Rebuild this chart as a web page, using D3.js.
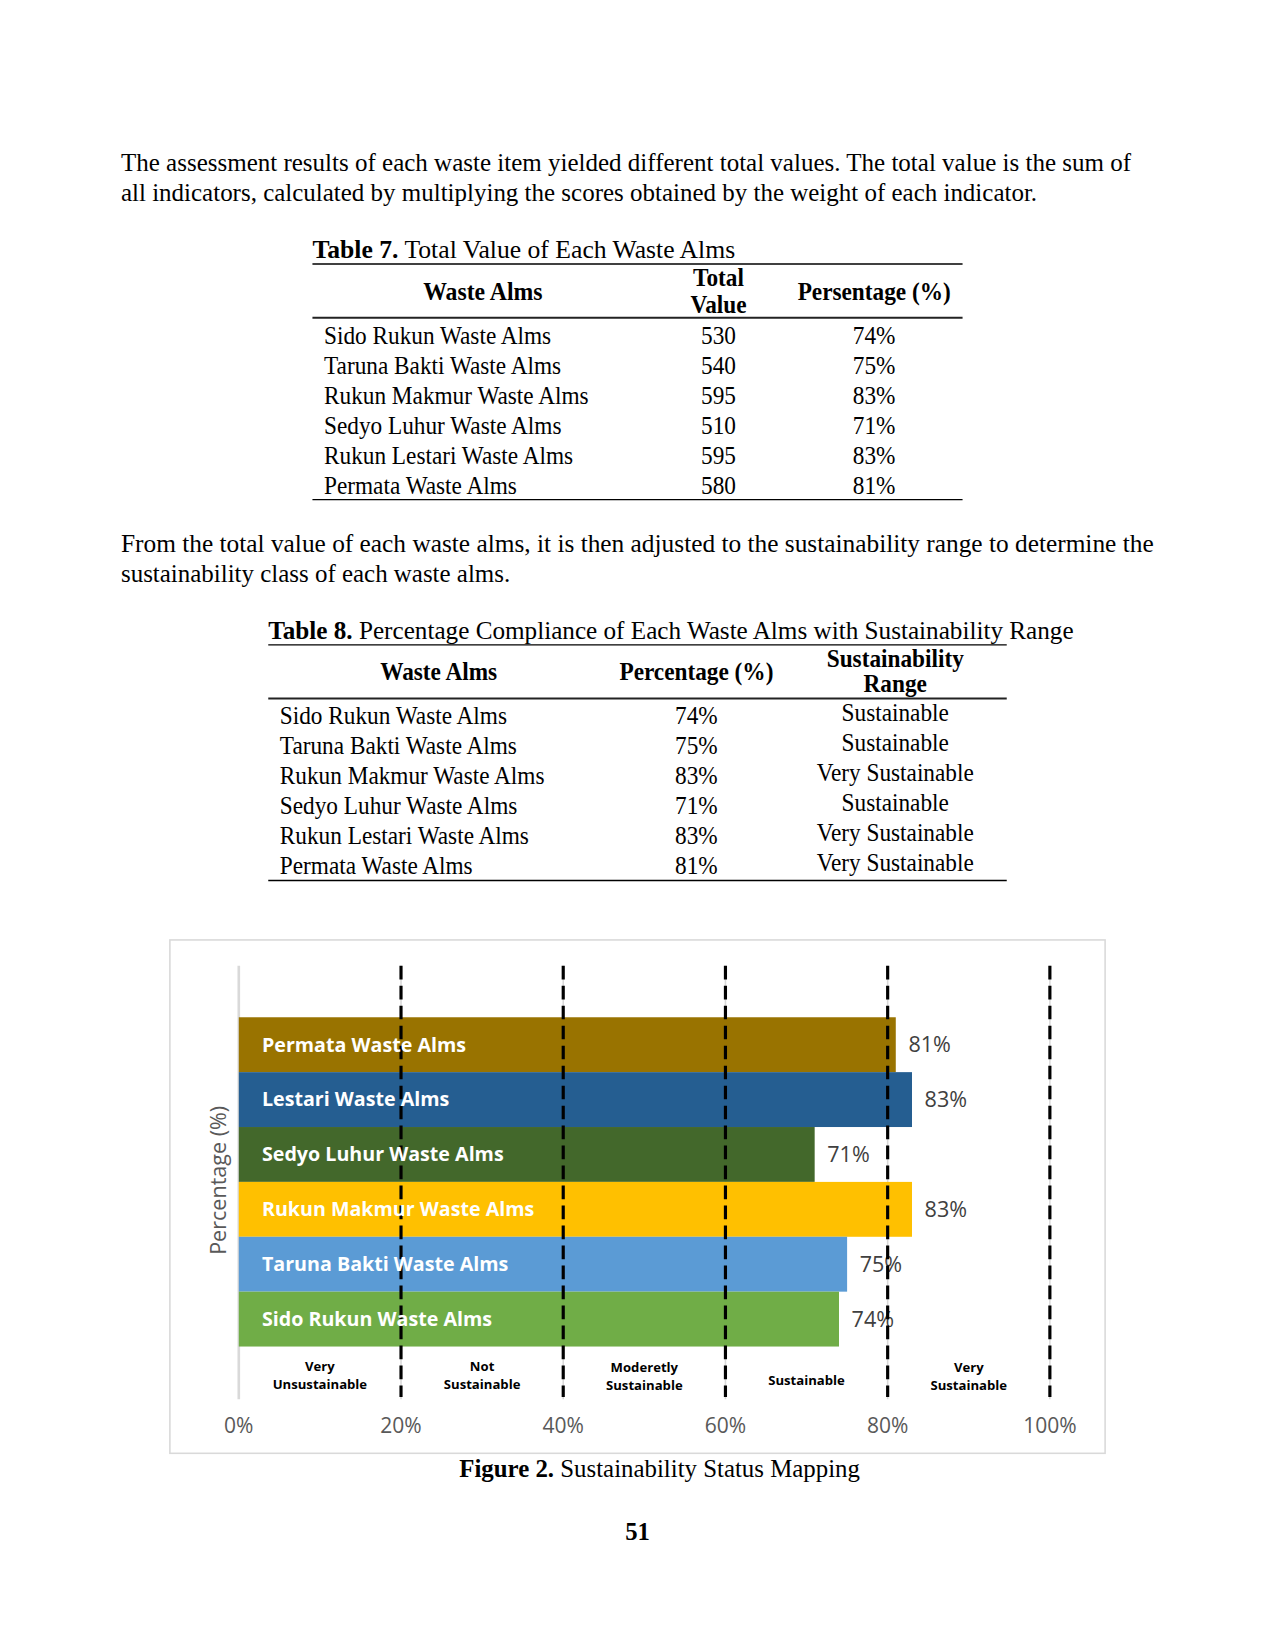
<!DOCTYPE html>
<html><head><meta charset="utf-8">
<script src="https://cdn.jsdelivr.net/npm/d3@7"></script>
<style>html,body{margin:0;padding:0;background:#fff}svg{display:block}</style>
</head><body>
<script>
// ---------- data ----------
const tableNames = ["Sido Rukun Waste Alms","Taruna Bakti Waste Alms","Rukun Makmur Waste Alms","Sedyo Luhur Waste Alms","Rukun Lestari Waste Alms","Permata Waste Alms"];
const totalValues = [530,540,595,510,595,580];
const percentages = [74,75,83,71,83,81];
const rangeClasses = ["Sustainable","Sustainable","Very Sustainable","Sustainable","Very Sustainable","Very Sustainable"];
const chartLabels = ["Sido Rukun Waste Alms","Taruna Bakti Waste Alms","Rukun Makmur Waste Alms","Sedyo Luhur Waste Alms","Lestari Waste Alms","Permata Waste Alms"];
const barColors = ["#70AD47","#5B9BD5","#FFC000","#43682B","#255E91","#997300"];
const tickValues = [0,20,40,60,80,100];
const tickLabels = ["0%","20%","40%","60%","80%","100%"];
const zoneNames = [["Very","Unsustainable"],["Not","Sustainable"],["Moderetly","Sustainable"],["Sustainable"],["Very","Sustainable"]];
const para1 = ["The assessment results of each waste item yielded different total values. The total value is the sum of","all indicators, calculated by multiplying the scores obtained by the weight of each indicator."];
const para2 = ["From the total value of each waste alms, it is then adjusted to the sustainability range to determine the","sustainability class of each waste alms."];

const W = 1275, H = 1650;
const K = 1275 / 1212; // layout measured on a reduced view
const root = d3.select("body").append("svg").attr("width", W).attr("height", H);
root.append("rect").attr("width", W).attr("height", H).attr("fill", "#fff");
const svg = root.append("g").attr("transform", `scale(${K})`);
const SERIF = "'Liberation Serif','Times New Roman',serif";
const SANS = "'Open Sans','Noto Sans',sans-serif";
const FS = 23.5;

function fit(sel, x0, target) {
  const w = sel.node().getBBox().width;
  const s = target / w;
  sel.attr("transform", `translate(${x0},0) scale(${s},1) translate(${-x0},0)`);
  return s;
}
function scaleX(sel, x0, s) {
  sel.attr("transform", `translate(${x0},0) scale(${s},1) translate(${-x0},0)`);
}
function txt(x, y, str, opts = {}) {
  return svg.append("text").attr("x", x).attr("y", y)
    .attr("font-family", opts.family || SERIF)
    .attr("font-size", opts.size || FS)
    .attr("font-weight", opts.weight || "normal")
    .attr("fill", opts.fill || "#000")
    .attr("text-anchor", opts.anchor || "start")
    .text(str);
}
function captionText(x, y, bold, rest, size) {
  const t = svg.append("text").attr("x", x).attr("y", y)
    .attr("font-family", SERIF).attr("font-size", size || FS).attr("fill", "#000");
  t.append("tspan").attr("font-weight", "bold").text(bold);
  t.append("tspan").text(rest);
  return t;
}

// ---------- paragraphs ----------
fit(txt(115, 163, para1[0]), 115, 961);
fit(txt(115, 191, para1[1]), 115, 871);
fit(txt(115, 525, para2[0]), 115, 982);
fit(txt(115, 553, para2[1]), 115, 370);

// common horizontal scale for table text
const probe = txt(0, -100, tableNames[0]);
const S = 216 / probe.node().getBBox().width;
probe.remove();

// ---------- Table 7 ----------
fit(captionText(297, 245, "Table 7.", " Total Value of Each Waste Alms"), 297, 402);
svg.append("line").attr("x1", 297).attr("x2", 915).attr("y1", 251).attr("y2", 251).attr("stroke", "#000").attr("stroke-width", 1.3);
scaleX(txt(459, 285, "Waste Alms", {weight: "bold", anchor: "middle"}), 459, S * 1.02);
scaleX(txt(683, 272, "Total", {weight: "bold", anchor: "middle"}), 683, S);
scaleX(txt(683, 298, "Value", {weight: "bold", anchor: "middle"}), 683, S);
scaleX(txt(831, 285, "Persentage (%)", {weight: "bold", anchor: "middle"}), 831, S);
svg.append("line").attr("x1", 297).attr("x2", 915).attr("y1", 302).attr("y2", 302).attr("stroke", "#222").attr("stroke-width", 2);
tableNames.forEach((n, i) => {
  const y = 327 + i * 28.6;
  scaleX(txt(308, y, n), 308, S);
  scaleX(txt(683, y, String(totalValues[i]), {anchor: "middle"}), 683, S);
  scaleX(txt(831, y, percentages[i] + "%", {anchor: "middle"}), 831, S);
});
svg.append("line").attr("x1", 297).attr("x2", 915).attr("y1", 475).attr("y2", 475).attr("stroke", "#000").attr("stroke-width", 1.3);

// ---------- Table 8 ----------
fit(captionText(255, 607, "Table 8.", " Percentage Compliance of Each Waste Alms with Sustainability Range"), 255, 766);
svg.append("line").attr("x1", 255).attr("x2", 957).attr("y1", 613).attr("y2", 613).attr("stroke", "#000").attr("stroke-width", 1.3);
scaleX(txt(417, 646, "Waste Alms", {weight: "bold", anchor: "middle"}), 417, S);
scaleX(txt(662, 646, "Percentage (%)", {weight: "bold", anchor: "middle"}), 662, S);
scaleX(txt(851, 634, "Sustainability", {weight: "bold", anchor: "middle"}), 851, S);
scaleX(txt(851, 658, "Range", {weight: "bold", anchor: "middle"}), 851, S);
svg.append("line").attr("x1", 255).attr("x2", 957).attr("y1", 664).attr("y2", 664).attr("stroke", "#222").attr("stroke-width", 2);
tableNames.forEach((n, i) => {
  const y = 688 + i * 28.6;
  scaleX(txt(266, y, n), 266, S);
  scaleX(txt(662, y, percentages[i] + "%", {anchor: "middle"}), 662, S);
  scaleX(txt(851, y - 3, rangeClasses[i], {anchor: "middle"}), 851, S);
});
svg.append("line").attr("x1", 255).attr("x2", 957).attr("y1", 837).attr("y2", 837).attr("stroke", "#000").attr("stroke-width", 1.3);

// ---------- Chart ----------
svg.append("rect").attr("x", 161.5).attr("y", 893.5).attr("width", 889).attr("height", 488)
  .attr("fill", "#fff").attr("stroke", "#d9d9d9").attr("stroke-width", 1.5);

const x = d3.scaleLinear().domain([0, 100]).range([227, 998]);
const order = d3.range(chartLabels.length).reverse(); // top-to-bottom
const y = d3.scaleBand().domain(order).range([967, 1280]).padding(0);
const gridTop = 918, gridBottom = 1330;

const g = svg.append("g");
g.selectAll("line.grid").data(tickValues).join("line").attr("class", "grid")
  .attr("x1", d => x(d)).attr("x2", d => x(d)).attr("y1", gridTop).attr("y2", gridBottom)
  .attr("stroke", "#d9d9d9").attr("stroke-width", d => d === 0 ? 2.5 : 1.5);

g.selectAll("rect.bar").data(order).join("rect").attr("class", "bar")
  .attr("x", x(0)).attr("y", i => y(i)).attr("width", i => x(percentages[i]) - x(0)).attr("height", y.bandwidth())
  .attr("fill", i => barColors[i]);

g.selectAll("text.val").data(order).join("text").attr("class", "val")
  .attr("x", i => x(percentages[i]) + 12).attr("y", i => y(i) + y.bandwidth() / 2)
  .attr("dy", "0.35em").attr("font-family", SANS).attr("font-size", 20.5).attr("fill", "#404040")
  .text(i => percentages[i] + "%");

g.selectAll("line.dash").data(tickValues.slice(1)).join("line").attr("class", "dash")
  .attr("x1", d => x(d)).attr("x2", d => x(d)).attr("y1", gridTop).attr("y2", gridBottom - 2)
  .attr("stroke", "#000").attr("stroke-width", 3).attr("stroke-dasharray", "13,6");

g.selectAll("text.lab").data(order).join("text").attr("class", "lab")
  .attr("x", 249).attr("y", i => y(i) + y.bandwidth() / 2)
  .attr("dy", "0.35em").attr("font-family", SANS).attr("font-size", 18.7).attr("font-weight", "bold").attr("fill", "#fff")
  .text(i => chartLabels[i]);

zoneNames.forEach((lines, k) => {
  const cx = (x(tickValues[k]) + x(tickValues[k + 1])) / 2;
  const t = g.append("text").attr("x", cx).attr("text-anchor", "middle")
    .attr("font-family", SANS).attr("font-size", 12.5).attr("font-weight", "bold").attr("fill", "#000");
  if (lines.length === 1) {
    t.append("tspan").attr("x", cx).attr("y", 1317).text(lines[0]);
  } else {
    lines.forEach((l, j) => t.append("tspan").attr("x", cx).attr("y", 1303 + (k >= 2 ? 1 : 0) + j * 17).text(l));
  }
});

g.selectAll("text.tick").data(tickValues).join("text").attr("class", "tick")
  .attr("x", d => x(d)).attr("y", 1355).attr("dy", "0.35em").attr("text-anchor", "middle")
  .attr("font-family", SANS).attr("font-size", 20).attr("fill", "#595959")
  .text((d, i) => tickLabels[i]);

g.append("text").attr("transform", "translate(208,1122) rotate(-90)").attr("text-anchor", "middle").attr("dy", "0.35em")
  .attr("font-family", SANS).attr("font-size", 20.5).attr("fill", "#595959").text("Percentage (%)");

// ---------- figure caption & page number ----------
fit(captionText(627, 1404, "Figure 2.", " Sustainability Status Mapping").attr("text-anchor", "middle"), 627, 381);
txt(606, 1464, "51", {weight: "bold", anchor: "middle", size: FS});
</script>
</body></html>
